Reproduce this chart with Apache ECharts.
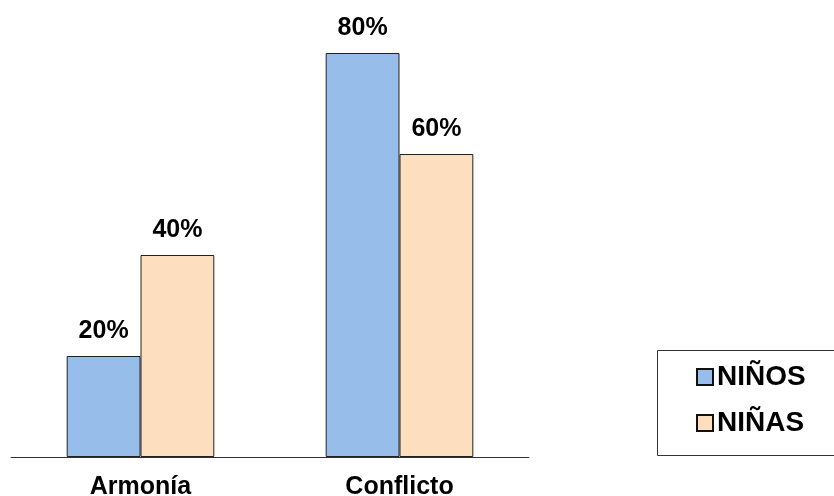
<!DOCTYPE html>
<html>
<head>
<meta charset="utf-8">
<script src="https://cdn.jsdelivr.net/npm/echarts@6/dist/echarts.min.js"></script>
<style>
html,body{margin:0;padding:0;background:#fff;}
#c{width:834px;height:496px;}
</style>
</head>
<body>
<div id="c"></div>
<script>
const categories = ['Armonía', 'Conflicto'];
const seriesNames = ['NIÑOS', 'NIÑAS'];
const ninos = [20, 80];
const ninas = [40, 60];

const FONT = '"Liberation Sans", Arial, sans-serif';
const chart = echarts.init(document.getElementById('c'), null, {renderer: 'canvas'});
const labelStyle = {
  show: true, position: 'top', distance: 12,
  formatter: '{c}%', fontFamily: FONT, fontWeight: 'bold', fontSize: 25, color: '#000'
};
chart.setOption({
  animation: false,
  backgroundColor: '#fff',
  grid: {left: 11, right: 305, top: 53, bottom: 39, containLabel: false, outerBoundsMode: 'none'},
  graphic: [{
    type: 'polyline', z: -1, silent: true,
    shape: {points: [[900, 350.5], [657.5, 350.5], [657.5, 455.5], [900, 455.5]]},
    style: {fill: null, stroke: '#333', lineWidth: 1}
  }],
  legend: {
    orient: 'vertical', left: 656, top: 350,
    data: seriesNames,
    icon: 'rect',
    itemWidth: 16, itemHeight: 16, itemGap: 18,
    padding: [13, 10, 10, 40],
    itemStyle: {borderColor: '#111', borderWidth: 2},
    textStyle: {fontFamily: FONT, fontWeight: 'bold', fontSize: 28, color: '#000', padding: [0, 0, 0, -1]},
    selectedMode: false
  },
  xAxis: {
    type: 'category', data: categories,
    axisLine: {show: true, lineStyle: {color: '#333', width: 1}},
    axisTick: {show: false},
    axisLabel: {fontFamily: FONT, fontWeight: 'bold', fontSize: 25, color: '#000', margin: 18}
  },
  yAxis: {
    type: 'value', min: 0, max: 80, show: false,
    splitLine: {show: false}
  },
  series: [
    {
      name: seriesNames[0], type: 'bar', data: ninos,
      barGap: '0%', barCategoryGap: '43%',
      itemStyle: {color: '#97BEEB', borderColor: '#222', borderWidth: 1},
      label: labelStyle
    },
    {
      name: seriesNames[1], type: 'bar', data: ninas,
      barGap: '0%', barCategoryGap: '43%',
      itemStyle: {color: '#FDDEBF', borderColor: '#222', borderWidth: 1},
      label: labelStyle
    }
  ]
});
</script>
</body>
</html>
